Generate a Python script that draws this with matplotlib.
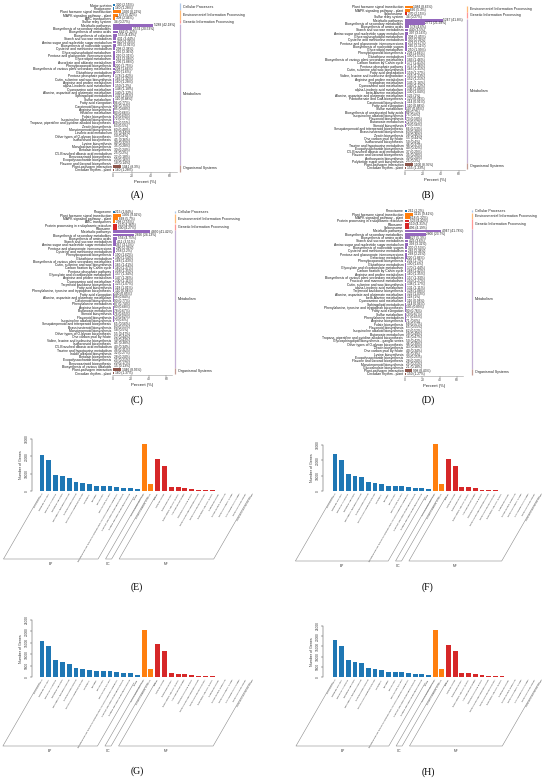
import math
import matplotlib
matplotlib.use('Agg')
import matplotlib.pyplot as plt
from matplotlib.lines import Line2D
from matplotlib.transforms import blended_transform_factory as btf

# ---------------- KEGG data ----------------
names_a = ["Motor proteins", "Phagosome", "Plant hormone signal transduction", "MAPK signaling pathway - plant",
           "ABC transporters", "Sulfur relay system", "Metabolic pathways", "Biosynthesis of secondary metabolites",
           "Biosynthesis of amino acids", "Biosynthesis of cofactors", "Starch and sucrose metabolism",
           "Amino sugar and nucleotide sugar metabolism", "Biosynthesis of nucleotide sugars",
           "Cysteine and methionine metabolism", "Glycerophospholipid metabolism",
           "Pentose and glucuronate interconversions", "Glycerolipid metabolism", "Ascorbate and aldarate metabolism",
           "Phenylpropanoid biosynthesis", "Biosynthesis of various plant secondary metabolites",
           "Glutathione metabolism", "Pentose phosphate pathway", "Cutin, suberine and wax biosynthesis",
           "Arginine and proline metabolism", "alpha-Linolenic acid metabolism", "Cyanoamino acid metabolism",
           "Alanine, aspartate and glutamate metabolism", "Sphingolipid metabolism", "Sulfur metabolism",
           "Fatty acid elongation", "Carotenoid biosynthesis", "Arginine biosynthesis", "Histidine metabolism",
           "Folate biosynthesis", "Isoquinoline alkaloid biosynthesis",
           "Tropane, piperidine and pyridine alkaloid biosynthesis", "Zeatin biosynthesis",
           "Monoterpenoid biosynthesis", "Linoleic acid metabolism", "Other types of O-glycan biosynthesis",
           "Isoflavonoid biosynthesis", "Lysine biosynthesis", "Monobactam biosynthesis", "Betalain biosynthesis",
           "C5-Branched dibasic acid metabolism", "Benzoxazinoid biosynthesis", "Exopolysaccharide biosynthesis",
           "Flavone and flavonol biosynthesis", "Plant-pathogen interaction", "Circadian rhythm - plant"]
counts_a = [320, 160, 1030, 679, 308, 34, 5288, 2574, 642, 555, 431, 420, 365, 298, 296, 290, 261, 236, 220, 208,
            200, 178, 166, 160, 150, 148, 140, 132, 110, 96, 94, 85, 83, 79, 72, 69, 63, 60, 55, 50, 45, 40, 35, 30,
            25, 22, 20, 18, 1041, 160]
pcts_a = [2.55, 1.28, 8.22, 5.42, 2.46, 0.27, 42.18, 20.53, 5.12, 4.43, 3.44, 3.35, 2.91, 2.38, 2.36, 2.31, 2.08,
          1.88, 1.75, 1.66, 1.6, 1.42, 1.32, 1.28, 1.2, 1.18, 1.12, 1.05, 0.88, 0.77, 0.75, 0.68, 0.66, 0.63, 0.57,
          0.55, 0.5, 0.48, 0.44, 0.4, 0.36, 0.32, 0.28, 0.24, 0.2, 0.18, 0.16, 0.14, 8.3, 1.28]
cats_a = ["CP"] * 2 + ["EIP"] * 3 + ["GIP"] * 1 + ["M"] * 42 + ["OS"] * 2

names_b = ["Plant hormone signal transduction", "MAPK signaling pathway - plant", "Spliceosome", "Sulfur relay system",
           "Metabolic pathways", "Biosynthesis of secondary metabolites", "Biosynthesis of amino acids",
           "Starch and sucrose metabolism", "Amino sugar and nucleotide sugar metabolism",
           "Glycerophospholipid metabolism", "Cysteine and methionine metabolism",
           "Pentose and glucuronate interconversions", "Biosynthesis of nucleotide sugars", "Glycerolipid metabolism",
           "Phenylpropanoid biosynthesis", "Glutathione metabolism",
           "Biosynthesis of various plant secondary metabolites", "Carbon fixation by Calvin cycle",
           "Pentose phosphate pathway", "Cutin, suberine and wax biosynthesis", "Fatty acid degradation",
           "Valine, leucine and isoleucine degradation", "Arginine and proline metabolism", "Tryptophan metabolism",
           "Cyanoamino acid metabolism", "alpha-Linolenic acid metabolism", "beta-Alanine metabolism",
           "Alanine, aspartate and glutamate metabolism", "Pantothenate and CoA biosynthesis",
           "Carotenoid biosynthesis", "Fatty acid elongation", "Sulfur metabolism",
           "Biosynthesis of unsaturated fatty acids", "Isoquinoline alkaloid biosynthesis", "Flavonoid biosynthesis",
           "Butanoate metabolism", "Steroid biosynthesis", "Sesquiterpenoid and triterpenoid biosynthesis",
           "Brassinosteroid biosynthesis", "Zeatin biosynthesis", "One carbon pool by folate",
           "Isoflavonoid biosynthesis", "Taurine and hypotaurine metabolism", "Exopolysaccharide biosynthesis",
           "C5-Branched dibasic acid metabolism", "Flavone and flavonol biosynthesis", "Anthocyanin biosynthesis",
           "Polyketide sugar unit biosynthesis", "Plant-pathogen interaction", "Circadian rhythm - plant"]
counts_b = [1084, 666, 270, 34, 5247, 2771, 578, 440, 397, 308, 300, 273, 265, 250, 208, 190, 183, 177, 171, 165,
            159, 155, 152, 145, 140, 136, 130, 126, 120, 114, 110, 107, 88, 75, 73, 72, 70, 66, 60, 58, 55, 50, 46,
            40, 37, 35, 30, 25, 1100, 155]
pcts_b = [8.63, 5.3, 2.15, 0.27, 41.8, 21.98, 4.6, 3.5, 3.16, 2.45, 2.39, 2.17, 2.11, 1.99, 1.66, 1.51, 1.46, 1.41,
          1.36, 1.31, 1.27, 1.23, 1.21, 1.16, 1.12, 1.08, 1.04, 1.0, 0.96, 0.91, 0.88, 0.85, 0.7, 0.6, 0.58, 0.57,
          0.56, 0.53, 0.48, 0.46, 0.44, 0.4, 0.37, 0.32, 0.29, 0.28, 0.24, 0.2, 8.76, 1.23]
cats_b = ["EIP"] * 2 + ["GIP"] * 2 + ["M"] * 44 + ["OS"] * 2

names_c = ["Phagosome", "Plant hormone signal transduction", "MAPK signaling pathway - plant", "ABC transporters",
           "Protein processing in endoplasmic reticulum", "Ribosome", "Metabolic pathways",
           "Biosynthesis of secondary metabolites", "Biosynthesis of amino acids", "Starch and sucrose metabolism",
           "Amino sugar and nucleotide sugar metabolism", "Pentose and glucuronate interconversions",
           "Cysteine and methionine metabolism", "Phenylpropanoid biosynthesis", "Glutathione metabolism",
           "Biosynthesis of various plant secondary metabolites", "Cutin, suberine and wax biosynthesis",
           "Carbon fixation by Calvin cycle", "Pentose phosphate pathway", "Glyoxylate and dicarboxylate metabolism",
           "Arginine and proline metabolism", "Cyanoamino acid metabolism", "Terpenoid backbone biosynthesis",
           "Fatty acid biosynthesis", "Phenylalanine, tyrosine and tryptophan biosynthesis", "Fatty acid elongation",
           "Alanine, aspartate and glutamate metabolism", "Carotenoid biosynthesis", "Phenylalanine metabolism",
           "Arginine biosynthesis", "Butanoate metabolism", "Steroid biosynthesis", "Flavonoid biosynthesis",
           "Isoquinoline alkaloid biosynthesis", "Sesquiterpenoid and triterpenoid biosynthesis",
           "Brassinosteroid biosynthesis", "Monoterpenoid biosynthesis", "Other types of O-glycan biosynthesis",
           "One carbon pool by folate", "Valine, leucine and isoleucine biosynthesis", "Isoflavonoid biosynthesis",
           "C5-Branched dibasic acid metabolism", "Taurine and hypotaurine metabolism", "Indole alkaloid biosynthesis",
           "Betalain biosynthesis", "Exopolysaccharide biosynthesis", "Benzoxazinoid biosynthesis",
           "Biosynthesis of various alkaloids", "Plant-pathogen interaction", "Circadian rhythm - plant"]
counts_c = [215, 1056, 668, 298, 510, 500, 4850, 2826, 556, 411, 367, 280, 258, 190, 180, 168, 165, 160, 158, 157,
            147, 130, 125, 118, 110, 100, 98, 90, 87, 80, 78, 76, 73, 70, 65, 60, 58, 55, 52, 50, 45, 40, 36, 32, 28,
            25, 20, 15, 1046, 160]
pcts_c = [1.84, 9.02, 5.7, 2.55, 4.36, 4.27, 41.42, 24.13, 4.75, 3.51, 3.13, 2.39, 2.2, 1.62, 1.54, 1.43, 1.41, 1.37,
          1.35, 1.34, 1.26, 1.11, 1.07, 1.01, 0.94, 0.85, 0.84, 0.77, 0.74, 0.68, 0.67, 0.65, 0.62, 0.6, 0.56, 0.51,
          0.5, 0.47, 0.44, 0.43, 0.38, 0.34, 0.31, 0.27, 0.24, 0.21, 0.17, 0.13, 8.93, 1.37]
cats_c = ["CP"] * 1 + ["EIP"] * 3 + ["GIP"] * 2 + ["M"] * 42 + ["OS"] * 2

names_d = ["Peroxisome", "Plant hormone signal transduction", "MAPK signaling pathway - plant",
           "Protein processing in endoplasmic reticulum", "Ribosome", "Spliceosome", "Metabolic pathways",
           "Biosynthesis of secondary metabolites", "Biosynthesis of amino acids", "Starch and sucrose metabolism",
           "Amino sugar and nucleotide sugar metabolism", "Biosynthesis of nucleotide sugars",
           "Cysteine and methionine metabolism", "Pentose and glucuronate interconversions", "Galactose metabolism",
           "Phenylpropanoid biosynthesis", "Glutathione metabolism", "Glyoxylate and dicarboxylate metabolism",
           "Carbon fixation by Calvin cycle", "Arginine and proline metabolism",
           "Biosynthesis of various plant secondary metabolites", "Fructose and mannose metabolism",
           "Cutin, suberine and wax biosynthesis", "alpha-Linolenic acid metabolism", "Terpenoid backbone biosynthesis",
           "Alanine, aspartate and glutamate metabolism", "beta-Alanine metabolism", "Cyanoamino acid metabolism",
           "Sphingolipid metabolism", "Phenylalanine, tyrosine and tryptophan biosynthesis", "Fatty acid elongation",
           "Sulfur metabolism", "Phenylalanine metabolism", "Arginine biosynthesis", "Folate biosynthesis",
           "Flavonoid biosynthesis", "Isoquinoline alkaloid biosynthesis", "Butanoate metabolism",
           "Tropane, piperidine and pyridine alkaloid biosynthesis", "Glycosphingolipid biosynthesis - ganglio series",
           "Other types of O-glycan biosynthesis", "Zeatin biosynthesis", "One carbon pool by folate",
           "Lysine biosynthesis", "Exopolysaccharide biosynthesis", "Flavone and flavonol biosynthesis",
           "Monoterpenoid biosynthesis", "Glucosinolate biosynthesis", "Plant-pathogen interaction",
           "Circadian rhythm - plant"]
counts_d = [261, 1115, 618, 523, 510, 496, 4947, 2806, 627, 426, 393, 300, 282, 268, 220, 201, 190, 170, 168, 160,
            157, 150, 138, 131, 128, 122, 118, 116, 114, 105, 90, 79, 77, 71, 68, 65, 62, 58, 56, 50, 46, 43, 40, 35,
            30, 28, 25, 21, 998, 150]
pcts_d = [2.2, 9.41, 5.22, 4.42, 4.31, 4.19, 41.78, 23.7, 5.3, 3.6, 3.32, 2.53, 2.38, 2.26, 1.86, 1.7, 1.6, 1.44,
          1.42, 1.35, 1.33, 1.27, 1.17, 1.11, 1.08, 1.03, 1.0, 0.98, 0.96, 0.89, 0.76, 0.67, 0.65, 0.6, 0.57, 0.55,
          0.52, 0.49, 0.47, 0.42, 0.39, 0.36, 0.34, 0.3, 0.25, 0.24, 0.21, 0.18, 8.43, 1.27]
cats_d = ["CP"] * 1 + ["EIP"] * 2 + ["GIP"] * 3 + ["M"] * 42 + ["OS"] * 2

kegg_ticks = [0, 20, 40, 60]

# ---------------- GO data ----------------
bp_terms = ["cellular process", "metabolic process", "response to stimulus", "biological regulation",
            "regulation of biological process", "developmental process", "multicellular organismal process",
            "localization", "signaling", "reproduction", "reproductive process",
            "biological process involved in interspecies interaction between organisms",
            "negative regulation of biological process", "positive regulation of biological process", "growth"]
cc_terms = ["cellular anatomical entity", "protein-containing complex"]
mf_terms = ["binding", "catalytic activity", "transporter activity", "transcription regulator activity",
            "ATP-dependent activity", "structural molecule activity", "molecular function regulator activity",
            "molecular transducer activity", "translation regulator activity", "antioxidant activity",
            "protein folding chaperone", "molecular adaptor activity", "cytoskeletal motor activity",
            "molecular carrier activity", "small molecule sensor activity"]

bp_e = [20700, 17600, 9500, 8700, 7700, 5000, 4450, 4250, 3100, 2700, 2700, 2300, 1900, 1900, 1150]
cc_e = [26900, 4050]
mf_e = [18400, 14500, 2300, 2100, 1550, 950, 780, 580, 300, 250, 200, 160, 120, 90, 60]

bp_f = [23900, 19900, 10900, 9850, 9000, 5700, 5000, 4800, 3500, 3100, 3100, 2600, 2200, 2200, 1500]
cc_f = [30650, 4600]
mf_f = [21000, 16600, 2600, 2400, 1750, 900, 750, 600, 320, 270, 210, 170, 130, 100, 60]

bp_g = [15900, 13500, 7350, 6600, 5900, 4000, 3700, 3250, 2500, 2500, 2500, 2050, 1600, 1600, 1000]
cc_g = [20600, 3400]
mf_g = [14300, 11500, 1800, 1500, 1300, 700, 600, 450, 250, 200, 160, 130, 100, 80, 50]

bp_h = [18000, 15350, 8150, 7500, 6700, 4250, 3900, 3600, 2600, 2450, 2450, 2100, 1650, 1650, 1000]
cc_h = [22900, 3750]
mf_h = [15850, 12750, 2000, 1800, 1500, 800, 650, 500, 280, 230, 180, 140, 110, 90, 55]

go_ticks_30 = [0, 10000, 20000, 30000]
go_ticks_25 = [0, 5000, 10000, 15000, 20000, 25000]

cat_names = {"CP": "Cellular Processes", "EIP": "Environmental Information Processing",
             "GIP": "Genetic Information Processing", "M": "Metabolism", "OS": "Organismal Systems"}
bar_col = {"CP": "#1f77b4", "EIP": "#ff7f0e", "GIP": "#d62728", "M": "#9467bd", "OS": "#8c564b"}
line_col = {"CP": "#aec7e8", "EIP": "#ffbb78", "GIP": "#ff9896", "M": "#c5b0d5", "OS": "#c49c94"}

# ---------------- figure ----------------
plt.rcParams['font.family'] = ['Liberation Sans', 'DejaVu Sans']
W, H = 550, 778
fig = plt.figure(figsize=(5.5, 7.78), dpi=100)
fig.patch.set_facecolor('white')


def fx(px):
    return px / W


def fy(py):
    return 1 - py / H


def add_ax(l, t, r, b):
    return fig.add_axes([fx(l), fy(b), (r - l) / W, (b - t) / H])


def kegg(names, counts, pcts, cats, l, r, row0, rowN, line_px):
    n = len(names)
    sp = (rowN - row0) / (n - 1)
    ax = add_ax(l, row0 - sp / 2, r, rowN + sp / 2)
    ys = list(range(n))
    ax.barh(ys, pcts, height=0.85, color=[bar_col[c] for c in cats], linewidth=0)
    xmax = max(pcts) * 1.6
    ax.set_xlim(0, xmax)
    ax.set_ylim(n - 0.5, -0.5)
    ax.set_yticks(ys)
    ax.set_yticklabels(names, fontsize=2.45, color='#1a1a1a')
    ax.tick_params(axis='y', length=0, pad=1.2)
    ax.set_xticks(kegg_ticks)
    ax.tick_params(axis='x', labelsize=2.5, length=1.2, width=0.3, pad=0.8, colors='#555')
    for s in ['top', 'right', 'left']:
        ax.spines[s].set_visible(False)
    ax.spines['bottom'].set_linewidth(0.4)
    ax.spines['bottom'].set_color('#999')
    for i, (c, p) in enumerate(zip(counts, pcts)):
        ax.text(p + xmax * 0.012, i, f"{c} ({p:g}%)", fontsize=2.3, va='center', ha='left', color='#222')
    ax.set_xlabel('Percent (%)', fontsize=3.1, labelpad=1.0, color='#222')
    tr = btf(ax.transAxes, ax.transData)
    lx = (line_px - l) / (r - l)
    groups = []
    start = 0
    for i in range(1, n + 1):
        if i == n or cats[i] != cats[start]:
            groups.append((cats[start], start, i - 1))
            start = i
    for cat, a, b in groups:
        ax.plot([lx, lx], [a - 0.45, b + 0.45], transform=tr, color=line_col[cat], lw=0.9,
                clip_on=False, solid_capstyle='butt')
        ax.text(lx + 3.0 / (r - l), (a + b) / 2, cat_names[cat], transform=tr, fontsize=2.6,
                va='center', ha='left', color='#222')
    return ax


def go(bp, cc, mf, l, r, t, b, x0, ymax, yticks, brk_bottom):
    counts = bp + cc + mf
    labels = bp_terms + cc_terms + mf_terms
    n = len(counts)
    ax = add_ax(l, t, r, b)
    x1 = n - 1 + 0.6
    ax.set_xlim(x0, x1)
    ax.set_ylim(0, ymax)
    cols = ['#1f77b4'] * len(bp) + ['#ff7f0e'] * len(cc) + ['#d62728'] * len(mf)
    ax.bar(range(n), counts, width=0.72, color=cols, clip_on=False, linewidth=0)
    for s in ['top', 'right', 'bottom']:
        ax.spines[s].set_visible(False)
    ax.spines['left'].set_bounds(0, ymax)
    ax.spines['left'].set_linewidth(0.35)
    ax.spines['left'].set_color('#444')
    ax.set_xticks([])
    ax.set_yticks(yticks)
    ax.set_yticklabels([str(v) for v in yticks], rotation=90, va='center', fontsize=2.3, color='#333')
    ax.tick_params(axis='y', length=1.6, width=0.3, pad=0.8, colors='#333')
    ax.set_ylabel('Number of Genes', fontsize=2.6, labelpad=1.0, color='#333')
    for i, lab in enumerate(labels):
        ax.annotate(lab, xy=(i, 0), xytext=(0.4, -1.6), textcoords='offset points', rotation=60,
                    ha='right', va='center', rotation_mode='anchor', fontsize=1.75, color='#2a2a2a',
                    annotation_clip=False)
    spx = (r - l) / (x1 - x0)

    def bx(i):
        return l + (i - x0) * spx

    top = b + 6
    dy = brk_bottom - top
    dx = dy / math.tan(math.radians(60))
    nb, nc = len(bp), len(cc)
    for a, e, name in [(0, nb - 1, 'BP'), (nb, nb + nc - 1, 'CC'), (nb + nc, n - 1, 'MF')]:
        tl = bx(a) - 0.4 * spx
        trx = bx(e) - 0.5 * spx
        xs = [tl, tl - dx, trx - dx, trx]
        ys = [top, brk_bottom, brk_bottom, top]
        fig.add_artist(Line2D([fx(v) for v in xs], [fy(v) for v in ys], transform=fig.transFigure,
                              color='#8a8a8a', lw=0.4))
        fig.text(fx((tl + trx) / 2 - dx), fy(brk_bottom + 5), name, fontsize=2.3, ha='center',
                 va='center', color='#333')
    return ax


kegg(names_a, counts_a, pcts_a, cats_a, 113, 177, 5, 170, 180)
kegg(names_b, counts_b, pcts_b, cats_b, 405, 465, 7, 168, 467)
kegg(names_c, counts_c, pcts_c, cats_c, 113, 172, 212, 373, 175)
kegg(names_d, counts_d, pcts_d, cats_d, 405, 463, 211, 374, 472)

go(bp_e, cc_e, mf_e, 32, 257, 439, 491, -1.47, 30000, go_ticks_30, 559)
go(bp_f, cc_f, mf_f, 323, 546, 445, 491, -1.8, 30000, go_ticks_30, 561)
go(bp_g, cc_g, mf_g, 32, 257, 620, 677, -1.47, 25000, go_ticks_25, 746)
go(bp_h, cc_h, mf_h, 323, 546, 626, 677, -1.8, 25000, go_ticks_25, 746)

for lab, x, y in [("(A)", 137, 195), ("(B)", 428, 195), ("(C)", 137, 400), ("(D)", 428, 400),
                  ("(E)", 137, 587), ("(F)", 427, 587), ("(G)", 137, 771), ("(H)", 428, 772)]:
    fig.text(fx(x), fy(y), lab, family='Liberation Serif', fontsize=7, ha='center', va='center')

fig.savefig('out.png', dpi=100, facecolor='white')
